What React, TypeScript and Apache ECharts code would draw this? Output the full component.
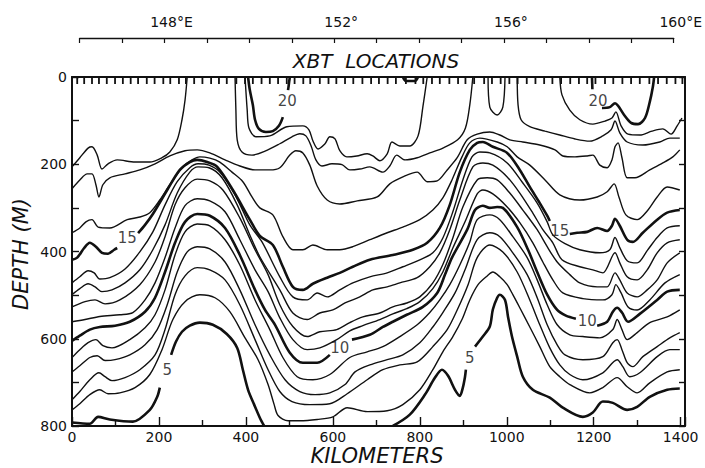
import React, { useEffect, useRef } from "react";
import * as echarts from "echarts";

const FONT = "DejaVu Sans";

// axis tick labels
const kmLabels = [0, 200, 400, 600, 800, 1000, 1200, 1400];
const depthLabels = [0, 200, 400, 600, 800];
const lonTickValues = [148, 152, 156, 160];
const lonTickText = ["148°E", "152°", "156°", "160°E"];

// XBT station positions (km)
const xbtStations = [12, 28, 46, 62, 80, 99, 117, 135, 152, 172, 190, 210, 226, 246, 262, 281, 300, 320, 338, 356, 378, 398, 416, 436, 455, 474, 494, 512, 532, 548, 570, 590, 608, 628, 647, 668, 688, 706, 726, 745, 768, 790, 808, 828, 846, 868, 888, 905, 925, 948, 966, 986, 1006, 1025, 1046, 1066, 1086, 1105, 1125, 1146, 1166, 1185, 1204, 1226, 1245, 1266, 1286, 1306, 1328, 1348, 1368, 1388, 1404];

// isotherms [km, depth m]
const t20a = [[405, 0], [409, 30], [416, 64], [421, 98], [430, 119], [446, 126], [462, 124], [476, 112], [485, 92]];
const t20b = [[497, 30], [501, 0]];
const t20c = [[761, 0], [768, 9], [789, 9], [796, 0]];
const t20d = [[1196, 0], [1197, 28]];
const t20e = [[1219, 71], [1237, 69], [1249, 60], [1256, 66], [1270, 87], [1286, 105], [1302, 108], [1318, 94], [1329, 57], [1336, 23], [1339, 0]];

const t19a = [[398, 0], [403, 76], [407, 117], [423, 137], [455, 135], [494, 114], [531, 112], [545, 121], [554, 146], [566, 165], [582, 153], [593, 137], [605, 142], [616, 169], [632, 183], [655, 181], [679, 176], [692, 181], [708, 192], [725, 176], [736, 149], [754, 158], [777, 158], [796, 135], [807, 69], [817, 0]];
const t19b = [[1122, 0], [1127, 41], [1145, 76], [1168, 98], [1198, 108], [1226, 101], [1242, 94], [1251, 80], [1263, 112], [1279, 131], [1306, 133], [1334, 124], [1359, 119], [1378, 131], [1392, 112], [1403, 94]];

const t18a = [[0, 206], [18, 185], [37, 163], [46, 160], [58, 179], [69, 211], [83, 199], [104, 190], [145, 195], [179, 195], [207, 185], [225, 172], [242, 144], [253, 98], [260, 53], [265, 0]];
const t18b = [[375, 0], [377, 76], [380, 144], [391, 172], [414, 179], [444, 170], [478, 153], [506, 137], [524, 130], [538, 135], [550, 158], [561, 190], [575, 204], [598, 199], [621, 201], [639, 213], [662, 211], [685, 206], [715, 218], [731, 204], [747, 179], [766, 190], [794, 185], [823, 174], [853, 163], [887, 144], [905, 117], [915, 64], [922, 0]];
const t18c = [[1024, 0], [1026, 64], [1033, 98], [1053, 114], [1088, 124], [1122, 133], [1157, 142], [1191, 147], [1221, 135], [1240, 121], [1249, 101], [1260, 128], [1277, 149], [1313, 156], [1352, 149], [1375, 140], [1398, 140]];
const t18d = [[957, 0], [961, 69], [978, 87], [991, 69], [996, 0]];

const t17 = [[0, 256], [18, 236], [35, 222], [46, 222], [55, 247], [62, 275], [71, 247], [87, 231], [122, 222], [156, 213], [191, 199], [225, 181], [260, 169], [288, 167], [317, 174], [352, 190], [386, 204], [421, 213], [455, 213], [478, 208], [501, 179], [515, 169], [531, 174], [547, 202], [564, 250], [587, 282], [616, 291], [656, 284], [702, 275], [731, 245], [761, 229], [794, 218], [817, 240], [840, 238], [863, 213], [886, 185], [909, 144], [932, 131], [961, 126], [984, 133], [1007, 144], [1037, 149], [1076, 156], [1111, 167], [1129, 181], [1157, 183], [1185, 181], [1198, 179], [1214, 202], [1231, 208], [1242, 190], [1249, 160], [1256, 151], [1265, 185], [1277, 231], [1295, 231], [1329, 213], [1359, 197], [1382, 183], [1398, 167]];

const t16 = [[0, 357], [18, 346], [32, 332], [46, 327], [60, 344], [87, 346], [127, 327], [156, 321], [179, 311], [202, 282], [225, 247], [255, 206], [276, 190], [294, 183], [317, 186], [340, 195], [368, 218], [393, 240], [414, 275], [432, 300], [462, 316], [485, 366], [508, 396], [531, 396], [554, 385], [587, 396], [616, 396], [646, 389], [685, 373], [725, 357], [761, 344], [800, 327], [830, 305], [853, 277], [874, 236], [897, 183], [915, 151], [938, 140], [978, 149], [1001, 160], [1024, 183], [1053, 202], [1088, 236], [1122, 270], [1168, 282], [1208, 275], [1231, 263], [1247, 245], [1258, 275], [1274, 316], [1300, 327], [1323, 307], [1346, 275], [1369, 252], [1398, 259]];

const t15a = [[0, 419], [12, 414], [28, 392], [41, 380], [55, 389], [69, 403], [83, 405], [97, 396], [104, 392]];
const t15b = [[152, 358], [168, 339], [186, 314], [219, 259], [248, 213], [271, 195], [288, 190], [311, 195], [334, 206], [370, 259], [409, 327], [432, 364], [462, 385], [485, 435], [508, 481], [531, 488], [554, 474], [587, 460], [616, 449], [646, 435], [685, 419], [738, 408], [784, 396], [817, 380], [846, 346], [869, 293], [892, 218], [915, 167], [932, 151], [945, 149], [968, 160], [1001, 174], [1030, 213], [1053, 252], [1076, 289], [1093, 318], [1099, 330]];
const t15c = [[1145, 360], [1162, 357], [1185, 355], [1208, 346], [1231, 353], [1242, 341], [1249, 325], [1260, 341], [1277, 373], [1290, 378], [1313, 357], [1346, 327], [1369, 311], [1398, 305]];

const t14 = [[0, 472], [18, 458], [37, 444], [51, 449], [64, 463], [87, 460], [122, 440], [156, 401], [186, 355], [214, 293], [242, 240], [271, 208], [290, 199], [315, 202], [340, 218], [375, 270], [409, 339], [437, 378], [478, 458], [508, 504], [541, 511], [564, 495], [587, 504], [616, 488], [646, 472], [685, 458], [725, 449], [761, 435], [800, 419], [830, 403], [853, 369], [876, 309], [899, 236], [920, 183], [938, 172], [961, 174], [1001, 197], [1037, 243], [1070, 289], [1093, 332], [1106, 362], [1134, 382], [1168, 396], [1214, 403], [1237, 396], [1249, 368], [1260, 391], [1277, 421], [1300, 426], [1323, 398], [1346, 368], [1369, 346], [1398, 341]];

const t13 = [[0, 499], [18, 485], [37, 474], [53, 481], [69, 492], [92, 488], [122, 472], [156, 442], [186, 396], [214, 339], [242, 266], [271, 218], [290, 206], [315, 208], [345, 231], [380, 293], [409, 362], [432, 412], [478, 488], [508, 541], [541, 556], [570, 541], [600, 534], [628, 518], [662, 504], [692, 488], [725, 481], [754, 472], [794, 460], [823, 435], [846, 403], [869, 350], [892, 282], [922, 206], [945, 197], [968, 202], [1001, 229], [1030, 266], [1060, 312], [1083, 350], [1106, 380], [1127, 419], [1168, 435], [1198, 442], [1221, 449], [1249, 403], [1260, 426], [1277, 458], [1300, 465], [1323, 442], [1346, 403], [1369, 380], [1398, 373]];

const t12 = [[0, 527], [30, 515], [53, 511], [76, 520], [110, 511], [156, 476], [191, 424], [214, 366], [237, 293], [260, 254], [288, 234], [317, 238], [347, 259], [386, 323], [421, 396], [451, 453], [478, 522], [508, 572], [541, 595], [570, 584], [609, 579], [639, 563], [669, 550], [708, 541], [738, 527], [770, 518], [800, 504], [830, 472], [853, 430], [876, 369], [899, 298], [932, 236], [955, 231], [978, 236], [1007, 266], [1037, 305], [1070, 350], [1093, 389], [1116, 424], [1145, 453], [1168, 472], [1208, 481], [1231, 481], [1249, 449], [1260, 465], [1277, 495], [1300, 504], [1323, 488], [1346, 465], [1369, 426], [1398, 403]];

const t11 = [[0, 561], [30, 556], [64, 549], [110, 545], [140, 540], [168, 511], [191, 472], [214, 414], [237, 346], [260, 295], [288, 279], [317, 284], [352, 309], [386, 373], [421, 442], [451, 492], [478, 552], [508, 602], [541, 625], [570, 621], [609, 602], [639, 582], [669, 570], [708, 556], [738, 543], [770, 531], [800, 515], [830, 485], [853, 447], [876, 392], [904, 332], [932, 268], [945, 259], [968, 268], [1001, 298], [1030, 334], [1060, 380], [1083, 424], [1106, 465], [1129, 495], [1175, 508], [1221, 511], [1242, 499], [1251, 476], [1263, 495], [1279, 527], [1300, 534], [1329, 511], [1364, 472], [1398, 453]];

const t10a = [[0, 605], [18, 593], [41, 579], [64, 573], [99, 570], [133, 561], [168, 538], [191, 506], [214, 447], [237, 380], [260, 332], [288, 314], [317, 318], [352, 346], [386, 408], [421, 488], [444, 534], [467, 568], [501, 632], [531, 655], [564, 655], [593, 637]];
const t10b = [[644, 602], [685, 591], [715, 573], [738, 561], [770, 545], [807, 527], [840, 495], [858, 453], [874, 414], [909, 350], [927, 305], [945, 295], [961, 300], [978, 298], [991, 300], [1024, 344], [1049, 396], [1070, 447], [1093, 499], [1116, 534], [1136, 547], [1159, 554]];
const t10c = [[1208, 570], [1231, 561], [1244, 538], [1254, 529], [1265, 540], [1279, 561], [1306, 543], [1346, 511], [1369, 492], [1398, 488]];

const t9 = [[0, 643], [18, 625], [37, 609], [55, 602], [71, 616], [92, 621], [133, 602], [168, 575], [191, 545], [214, 488], [237, 408], [260, 355], [288, 337], [317, 341], [352, 373], [386, 431], [421, 511], [455, 579], [485, 643], [518, 687], [554, 694], [593, 682], [639, 643], [679, 630], [715, 618], [754, 595], [794, 568], [823, 540], [846, 511], [869, 476], [892, 431], [915, 378], [932, 327], [961, 316], [984, 327], [1014, 366], [1047, 414], [1070, 465], [1093, 522], [1116, 568], [1145, 591], [1175, 595], [1214, 598], [1244, 579], [1254, 556], [1265, 579], [1277, 602], [1300, 586], [1329, 563], [1369, 550], [1398, 534]];

const t8 = [[0, 676], [18, 662], [41, 643], [58, 639], [76, 650], [99, 648], [133, 637], [168, 614], [196, 579], [219, 522], [242, 447], [265, 401], [288, 389], [317, 394], [352, 424], [386, 488], [421, 568], [455, 637], [490, 694], [524, 721], [559, 728], [593, 724], [628, 705], [651, 676], [685, 660], [725, 648], [761, 637], [800, 609], [830, 573], [853, 540], [881, 495], [904, 442], [932, 373], [961, 357], [984, 366], [1014, 403], [1047, 453], [1070, 506], [1093, 568], [1116, 614], [1134, 637], [1175, 648], [1221, 641], [1244, 609], [1254, 602], [1265, 625], [1277, 655], [1290, 664], [1313, 641], [1346, 618], [1375, 598], [1398, 586]];

const t7 = [[0, 740], [18, 721], [41, 694], [62, 678], [76, 687], [92, 696], [122, 689], [156, 671], [191, 637], [214, 579], [237, 499], [260, 456], [288, 437], [317, 442], [352, 465], [386, 522], [421, 602], [451, 671], [478, 721], [506, 744], [547, 751], [593, 749], [633, 726], [679, 694], [715, 671], [754, 660], [794, 653], [830, 618], [863, 579], [886, 534], [911, 476], [932, 414], [961, 385], [991, 401], [1024, 447], [1053, 511], [1076, 568], [1099, 621], [1122, 660], [1145, 682], [1175, 694], [1221, 678], [1254, 648], [1267, 664], [1283, 687], [1306, 678], [1346, 641], [1375, 625], [1398, 625]];

const t6 = [[0, 763], [18, 749], [41, 728], [64, 717], [83, 726], [110, 724], [145, 712], [179, 682], [207, 625], [232, 556], [260, 515], [294, 499], [329, 506], [363, 538], [398, 598], [428, 648], [451, 705], [465, 751], [474, 776], [497, 788], [524, 788], [564, 785], [600, 779], [633, 758], [679, 767], [725, 765], [761, 751], [800, 717], [830, 671], [853, 630], [876, 595], [897, 556], [915, 511], [934, 476], [955, 456], [968, 447], [984, 458], [1001, 476], [1014, 499], [1030, 529], [1053, 573], [1076, 618], [1099, 664], [1122, 687], [1145, 705], [1191, 724], [1221, 712], [1254, 689], [1277, 710], [1300, 724], [1329, 701], [1369, 676], [1398, 671]];

const t5a = [[0, 792], [41, 795], [60, 779], [87, 785], [140, 790], [179, 763], [196, 733], [202, 712]];
const t5b = [[228, 637], [239, 607], [253, 584], [271, 570], [294, 563], [324, 568], [356, 589], [380, 621], [393, 671], [405, 717], [419, 751], [432, 781], [442, 800]];
const t5c = [[738, 800], [777, 774], [812, 728], [835, 689], [851, 671], [865, 685], [881, 717], [892, 731], [899, 712], [904, 687], [906, 671]];
const t5d = [[927, 618], [945, 595], [961, 572], [968, 533], [978, 506], [984, 499], [996, 511], [1003, 550], [1012, 595], [1024, 641], [1037, 687], [1060, 717], [1099, 735], [1129, 758], [1175, 779], [1198, 769], [1221, 744], [1244, 747], [1277, 763], [1300, 756], [1329, 733], [1369, 717], [1398, 714]];

// contour labels
const labelText = ["20", "20", "15", "15", "10", "10", "5", "5"];
const labelKm = [495, 1210, 127, 1122, 616, 1185, 219, 915];
const labelDepth = [55, 55, 369, 352, 621, 559, 671, 643];

const boldLines = [t20a, t20b, t20c, t20d, t20e, t15a, t15b, t15c, t10a, t10b, t10c, t5a, t5b, t5c, t5d];
const thinLines = [t19a, t19b, t18a, t18b, t18c, t18d, t17, t16, t14, t13, t12, t11, t9, t8, t7, t6];

const titleStyle = (text: string, size: number) => ({
  text,
  fontSize: size,
  fontStyle: "italic",
  fontFamily: FONT,
  fill: "#111",
  align: "center",
  verticalAlign: "middle",
  textAlign: "center",
  textVerticalAlign: "middle",
});

export default function App() {
  const ref = useRef<HTMLDivElement>(null);
  useEffect(() => {
    if (!ref.current) return;
    const chart = echarts.init(ref.current, undefined, { renderer: "svg" });
    const lineSeries = (data: number[][], bold: boolean) => ({
      type: "line",
      xAxisIndex: 0,
      yAxisIndex: 0,
      data,
      smooth: 0.3,
      symbol: "none",
      silent: true,
      lineStyle: { color: "#111", width: bold ? 2.6 : 1.4 },
      z: bold ? 3 : 2,
    });
    const series: any[] = [
      ...thinLines.map((d) => lineSeries(d, false)),
      ...boldLines.map((d) => lineSeries(d, true)),
      {
        type: "scatter",
        xAxisIndex: 0,
        yAxisIndex: 0,
        data: labelText.map((t, i) => [labelKm[i], labelDepth[i], t]),
        symbolSize: 1,
        itemStyle: { color: "rgba(0,0,0,0)" },
        silent: true,
        label: {
          show: true,
          position: "inside",
          formatter: (p: any) => p.data[2],
          fontSize: 15,
          fontFamily: FONT,
          color: "#111",
        },
        z: 6,
      },
    ];
    const titles: any[] = [
      { type: "text", x: 376, y: 61, style: titleStyle("XBT  LOCATIONS", 20) },
      { type: "text", x: 377, y: 456, style: titleStyle("KILOMETERS", 21) },
      { type: "text", x: 21, y: 254, rotation: Math.PI / 2, style: titleStyle("DEPTH (M)", 21) },
    ];
    chart.setOption({
      animation: false,
      backgroundColor: "#ffffff",
      grid: [
        { left: 72, right: 20, top: 77, bottom: 42, show: false },
        { left: 79.6, right: 21, top: 38, height: 20, show: false },
      ],
      xAxis: [
        {
          type: "value",
          gridIndex: 0,
          min: 0,
          max: 1410,
          interval: 200,
          position: "bottom",
          axisLine: { show: true, onZero: false, lineStyle: { color: "#111", width: 2 } },
          axisTick: { show: true, inside: true, length: 9, lineStyle: { color: "#111", width: 1.4 } },
          minorTick: { show: true, splitNumber: 2, length: 6, lineStyle: { color: "#111", width: 1.4 } },
          axisLabel: {
            formatter: (v: number) => (kmLabels.includes(v) ? String(v) : ""),
            fontSize: 14,
            lineHeight: 14,
            fontFamily: FONT,
            color: "#111",
            margin: 4,
          },
          splitLine: { show: false },
        },
        {
          type: "value",
          gridIndex: 0,
          min: 0,
          max: 1410,
          position: "top",
          axisLine: { show: true, onZero: false, lineStyle: { color: "#111", width: 2.2 } },
          axisTick: { show: false },
          axisLabel: { show: false },
          splitLine: { show: false },
        },
        {
          type: "value",
          gridIndex: 1,
          min: 146,
          max: 160,
          interval: 1,
          position: "top",
          axisLine: { show: true, onZero: false, lineStyle: { color: "#111", width: 1.3 } },
          axisTick: { show: true, inside: true, length: 5, lineStyle: { color: "#111", width: 1.2 } },
          axisLabel: {
            formatter: (v: number) => {
              const i = lonTickValues.indexOf(v);
              return i >= 0 ? lonTickText[i] : "";
            },
            fontSize: 14,
            fontFamily: FONT,
            color: "#111",
            margin: 9,
            padding: [0, 0, 0, 14],
          },
          splitLine: { show: false },
        },
      ],
      yAxis: [
        {
          type: "value",
          gridIndex: 0,
          inverse: true,
          min: 0,
          max: 800,
          interval: 100,
          position: "left",
          axisLine: { show: true, onZero: false, lineStyle: { color: "#111", width: 2 } },
          axisTick: { show: true, inside: true, length: 7, lineStyle: { color: "#111", width: 1.4 } },
          axisLabel: {
            formatter: (v: number) => (depthLabels.includes(v) ? String(v) : ""),
            fontSize: 14,
            fontFamily: FONT,
            color: "#111",
            margin: 5,
          },
          splitLine: { show: false },
        },
        {
          type: "value",
          gridIndex: 0,
          inverse: true,
          min: 0,
          max: 800,
          interval: 100,
          position: "right",
          axisLine: { show: true, onZero: false, lineStyle: { color: "#111", width: 2 } },
          axisTick: { show: true, inside: true, length: 6, lineStyle: { color: "#111", width: 1.4 } },
          axisLabel: { show: false },
          splitLine: { show: false },
        },
        { type: "value", gridIndex: 1, show: false, min: 0, max: 1 },
      ],
      graphic: titles,
      series,
    });
    // XBT station marks along the top border, placed through the chart's own scales
    const stationMarks = xbtStations.map((k) => {
      const p = chart.convertToPixel({ xAxisIndex: 0, yAxisIndex: 0 }, [k, 0]) as number[];
      return {
        type: "rect",
        shape: { x: p[0] - 0.9, y: p[1], width: 1.8, height: 7 },
        style: { fill: "#111" },
        z: 10,
        silent: true,
      };
    });
    chart.setOption({ graphic: [...titles, ...stationMarks] });
    return () => chart.dispose();
  }, []);
  return (
    <div
      ref={ref}
      style={{ position: "absolute", left: 0, top: 0, width: 705, height: 468, background: "#fff" }}
    />
  );
}
